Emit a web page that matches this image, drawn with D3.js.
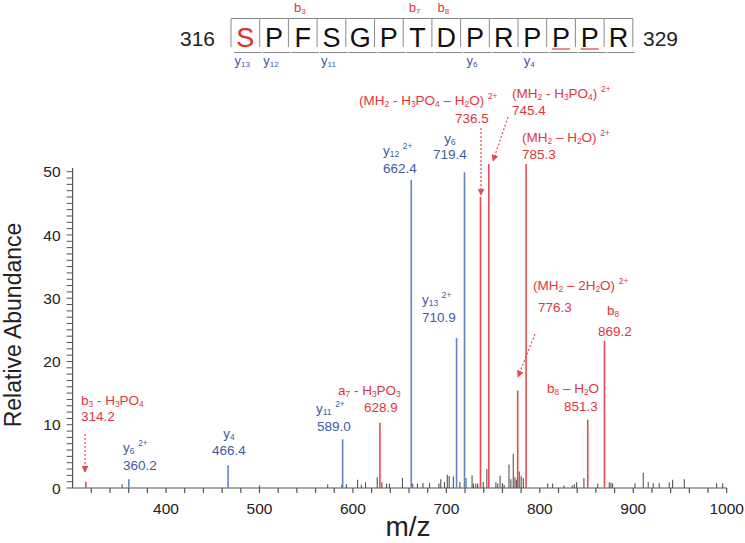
<!DOCTYPE html>
<html><head><meta charset="utf-8">
<script src="https://cdn.jsdelivr.net/npm/d3@7/dist/d3.min.js"></script>
<style>body{margin:0;background:#fff}svg{display:block}text{font-family:"Liberation Sans",Arial,sans-serif}</style>
</head><body><svg id="c" width="745" height="543"></svg>
<script>
// ---------- data ----------
const residues = ["S","P","F","S","G","P","T","D","P","R","P","P","P","R"];
const seqStart = "316", seqEnd = "329";
const phosphoSites = [0];
const bIonSites = [2, 6, 7];
const bIonNames = ["3", "7", "8"];
const yIonSites = [0, 1, 3, 8, 10];
const yIonNames = ["13", "12", "11", "6", "4"];
const flaggedSites = [11, 12];

const noiseMz  = [353,500,573,588,593,605,609,613.5,626,631,636,639,653,664,669,675,682,692,694,698,701,703,707.5,714.5,721,727.5,729,731.5,733.5,739.5,743.3,753,755,757.5,760,761.8,767,769,771.6,773.4,775,778,780,782.3,808.4,813.7,825.8,834.8,837,839.4,847.2,862,874.3,876.1,877.9,901.8,910.7,916,921.4,927.8,938.5,942.1,954.6,989.2,995.7];
const noiseInt = [0.6,0.4,0.6,0.5,0.6,1.3,0.5,0.9,1.7,0.9,0.7,0.7,1.6,0.7,0.7,0.8,0.8,0.7,1.4,0.95,2.1,1.9,1.8,0.95,1.6,2.0,0.7,0.7,0.7,0.95,3.0,0.9,0.7,1.95,0.8,0.5,3.7,1.4,5.4,1.7,1.3,2.6,1.95,1.6,0.7,0.7,0.4,0.4,0.6,0.9,1.6,0.7,0.85,0.85,0.7,0.75,2.4,0.95,0.75,0.75,0.85,1.3,1.4,0.75,0.75];

const redMz    = [314.2, 628.9, 736.5, 745.4, 776.3, 785.3, 851.3, 869.2];
const redInt   = [1.0, 10.3, 46.0, 51.2, 15.4, 51.2, 10.8, 23.3];
const redName  = ["b_{3} - H_{3}PO_{4}", "a_{7} - H_{3}PO_{3}", "(MH_{2} - H_{3}PO_{4} – H_{2}O) ^{2+}", "(MH_{2} - H_{3}PO_{4}) ^{2+}", "(MH_{2} – 2H_{2}O) ^{2+}", "(MH_{2} – H_{2}O) ^{2+}", "b_{8} – H_{2}O", "b_{8}"];
const redValue = ["314.2", "628.9", "736.5", "745.4", "776.3", "785.3", "851.3", "869.2"];

const blueMz    = [360.2, 466.4, 589.0, 662.4, 710.9, 719.4];
const blueInt   = [1.4, 3.6, 7.7, 48.7, 23.7, 49.9];
const blueName  = ["y_{6} ^{2+}", "y_{4}", "y_{11} ^{2+}", "y_{12} ^{2+}", "y_{13} ^{2+}", "y_{6}"];
const blueValue = ["360.2", "466.4", "589.0", "662.4", "710.9", "719.4"];

const xTicks = [400, 500, 600, 700, 800, 900, 1000];
const yTicks = [0, 10, 20, 30, 40, 50];

// ---------- layout ----------
const RED_TXT = "#e0363e", RED_LN = "#e64a52", BLUE_TXT = "#3d5ca3", BLUE_LN = "#6383c6", GRAY = "#555";
// label layout: [x1, baseline1, anchor1, x2, baseline2, anchor2]
const redLayout = [
  [81, 405, "start", 81, 421, "start"],
  [338, 395, "start", 364, 412, "start"],
  [359, 105, "start", 455, 123, "start"],
  [512, 98, "start", 512, 115, "start"],
  [533, 290, "start", 538, 312, "start"],
  [522, 142, "start", 522, 159, "start"],
  [547, 393, "start", 564, 411, "start"],
  [613, 315, "middle", 615, 336, "middle"]
];
const redArrows = [[85, 434, 85, 472], null, [481, 128, 481, 195], [508, 117, 493, 161], [535, 334, 518, 377], null, null, null];
const blueLayout = [
  [123, 452, "start", 123, 470, "start"],
  [229, 438, "middle", 229, 455, "middle"],
  [316, 413, "start", 317, 431, "start"],
  [383, 155, "start", 383, 173, "start"],
  [422, 304, "start", 422, 322, "start"],
  [450, 143, "middle", 450, 159, "middle"]
];

const svg = d3.select("#c");
const x = d3.scaleLinear().domain([300, 1000]).range([72.6, 726.7]);
const y = d3.scaleLinear().domain([0, 50]).range([488, 171.7]);

function rich(sel, str) {
  const parts = str.split(/(_\{[^}]*\}|\^\{[^}]*\})/).filter(s => s.length);
  parts.forEach(p => {
    if (p.startsWith("_{")) {
      sel.append("tspan").attr("font-size", "0.62em").attr("baseline-shift", "-0.25em").text(p.slice(2, -1));
    } else if (p.startsWith("^{")) {
      sel.append("tspan").attr("font-size", "0.62em").attr("baseline-shift", "0.75em").text(p.slice(2, -1));
    } else {
      sel.append("tspan").text(p);
    }
  });
}

// defs arrow
const defs = svg.append("defs");
defs.append("marker").attr("id", "arr").attr("viewBox", "0 0 10 10").attr("refX", 9).attr("refY", 5)
  .attr("markerWidth", 7).attr("markerHeight", 7).attr("orient", "auto").attr("markerUnits", "userSpaceOnUse")
  .append("path").attr("d", "M0,0L10,5L0,10z").attr("fill", RED_LN);

// ---------- axes ----------
const gx = svg.append("g").attr("transform", "translate(0,488)");
gx.append("line").attr("x1", x(300)).attr("x2", x(1000)).attr("stroke", GRAY).attr("stroke-width", 1.2);
gx.selectAll("line.t").data(d3.range(320, 1001, 20)).join("line").attr("class", "t")
  .attr("x1", d => x(d)).attr("x2", d => x(d)).attr("y1", 0).attr("y2", 5).attr("stroke", GRAY).attr("stroke-width", 1.2);
gx.selectAll("text").data(xTicks).join("text").attr("x", d => x(d)).attr("y", 26)
  .attr("text-anchor", "middle").attr("font-size", 15.5).attr("fill", "#222").text(d => d);

const gy = svg.append("g").attr("transform", "translate(72.6,0)");
gy.append("line").attr("y1", y(0)).attr("y2", y(50.6)).attr("stroke", GRAY).attr("stroke-width", 1.2);
gy.selectAll("line.t").data(d3.range(0, 51, 1)).join("line").attr("class", "t")
  .attr("y1", d => y(d)).attr("y2", d => y(d)).attr("x1", 0).attr("x2", -6).attr("stroke", GRAY).attr("stroke-width", 1);
gy.selectAll("text").data(yTicks).join("text").attr("x", -12).attr("y", d => y(d)).attr("dy", "0.36em")
  .attr("text-anchor", "end").attr("font-size", 15.5).attr("fill", "#222").text(d => d);

svg.append("text").attr("transform", "translate(21,325) rotate(-90)").attr("text-anchor", "middle")
  .attr("font-size", 23).attr("fill", "#222").text("Relative Abundance");
svg.append("text").attr("x", 408).attr("y", 536).attr("text-anchor", "middle")
  .attr("font-size", 28).attr("fill", "#222").text("m/z");

// ---------- peaks ----------
const noise = noiseMz.map((m, i) => ({m, v: noiseInt[i]}));
svg.append("g").selectAll("line").data(noise).join("line")
  .attr("x1", d => x(d.m)).attr("x2", d => x(d.m)).attr("y1", y(0)).attr("y2", d => y(d.v))
  .attr("stroke", GRAY).attr("stroke-width", 1.1);

const blue = blueMz.map((m, i) => ({m, v: blueInt[i], name: blueName[i], val: blueValue[i], L: blueLayout[i]}));
const red = redMz.map((m, i) => ({m, v: redInt[i], name: redName[i], val: redValue[i], L: redLayout[i], A: redArrows[i]}));

svg.append("g").selectAll("line").data(blue).join("line")
  .attr("x1", d => x(d.m)).attr("x2", d => x(d.m)).attr("y1", y(0)).attr("y2", d => y(d.v))
  .attr("stroke", BLUE_LN).attr("stroke-width", 1.6);
svg.append("g").selectAll("line").data(red).join("line")
  .attr("x1", d => x(d.m)).attr("x2", d => x(d.m)).attr("y1", y(0)).attr("y2", d => y(d.v))
  .attr("stroke", RED_LN).attr("stroke-width", 1.6);

function labels(data, color) {
  data.forEach(d => {
    const [x1, y1, a1, x2, y2, a2] = d.L;
    const t1 = svg.append("text").attr("x", x1).attr("y", y1).attr("text-anchor", a1)
      .attr("font-size", 13.5).attr("fill", color);
    rich(t1, d.name);
    svg.append("text").attr("x", x2).attr("y", y2).attr("text-anchor", a2)
      .attr("font-size", 13.5).attr("fill", color).text(d.val);
    if (d.A) {
      svg.append("line").attr("x1", d.A[0]).attr("y1", d.A[1]).attr("x2", d.A[2]).attr("y2", d.A[3])
        .attr("stroke", RED_LN).attr("stroke-width", 1.2).attr("stroke-dasharray", "2,2")
        .attr("marker-end", "url(#arr)");
    }
  });
}
labels(blue, BLUE_TXT);
labels(red, RED_TXT);

// ---------- sequence header ----------
const sx = d3.scaleBand().domain(d3.range(residues.length)).range([231, 231 + 28.7 * residues.length]);
const hdr = svg.append("g");
residues.forEach((r, i) => {
  const xl = sx(i), xr = xl + sx.bandwidth();
  hdr.append("path").attr("d", `M${xl},18.5H${xr}V47`).attr("fill", "none").attr("stroke", "#8a8a8a").attr("stroke-width", 1);
  hdr.append("path").attr("d", `M${xl + 3},52.5H${xr + 2}`).attr("fill", "none").attr("stroke", "#8a8a8a").attr("stroke-width", 1);
  hdr.append("text").attr("x", xl + sx.bandwidth() / 2).attr("y", 47).attr("text-anchor", "middle")
    .attr("font-size", 27).attr("fill", phosphoSites.includes(i) ? "#e02b2b" : "#111").text(r);
});
hdr.append("path").attr("d", `M${sx(0)},18.5V47`).attr("fill", "none").attr("stroke", "#8a8a8a").attr("stroke-width", 1);
flaggedSites.forEach(i => {
  const c = sx(i) + sx.bandwidth() / 2;
  hdr.append("line").attr("x1", c - 9).attr("x2", c + 9).attr("y1", 49).attr("y2", 49)
    .attr("stroke", "#e05050").attr("stroke-width", 1.3);
});
hdr.append("text").attr("x", 215).attr("y", 46).attr("text-anchor", "end").attr("font-size", 21).attr("fill", "#222").text(seqStart);
hdr.append("text").attr("x", 643).attr("y", 46).attr("text-anchor", "start").attr("font-size", 21).attr("fill", "#222").text(seqEnd);
bIonSites.forEach((s, k) => {
  const t = hdr.append("text").attr("x", sx(s) + sx.bandwidth() / 2 - 3).attr("y", 12).attr("text-anchor", "middle")
    .attr("font-size", 13).attr("fill", RED_TXT);
  rich(t, "b_{" + bIonNames[k] + "}");
});
yIonSites.forEach((s, k) => {
  const t = hdr.append("text").attr("x", sx(s) + sx.bandwidth() / 2 - 3).attr("y", 65).attr("text-anchor", "middle")
    .attr("font-size", 13).attr("fill", BLUE_TXT);
  rich(t, "y_{" + yIonNames[k] + "}");
});
</script></body></html>
